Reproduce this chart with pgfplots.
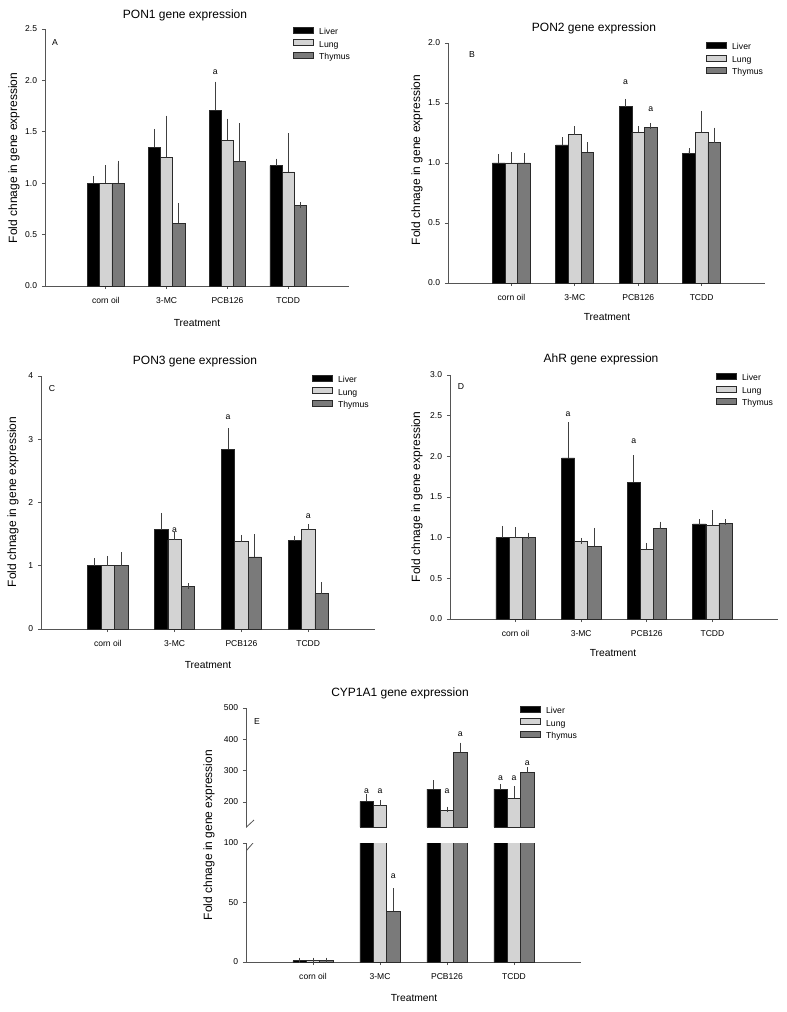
\documentclass[border=0pt]{standalone}
\usepackage{pgfplots}
\pgfplotsset{compat=1.18}
\usepackage{fontspec}
\setmainfont{Liberation Sans}
\definecolor{lungc}{HTML}{D3D3D3}
\definecolor{thyc}{HTML}{7A7A7A}
\definecolor{axc}{HTML}{555555}
\definecolor{edgec}{HTML}{2A2A2A}
\definecolor{errc}{HTML}{404040}
\pgfplotsset{
 panel/.style={
  scale only axis, anchor=south west,
  ybar, bar width=0.2,
  xmin=0, xmax=5, xtick={1,2,3,4},
  xticklabels={corn oil,3-MC,PCB126,TCDD},
  axis x line*=bottom, axis y line*=left,
  axis line style={draw=axc, line width=0.6pt},
  every tick/.style={draw=axc, line width=0.6pt},
  tick align=outside, major tick length=2.4pt,
  ticklabel style={font=\fontsize{6.4}{7}\selectfont},
  xticklabel style={yshift=-2.5pt},
  /pgf/number format/assume math mode=true,
  minor tick num=0,
  legend style={draw=none, fill=none, anchor=north west, inner sep=0pt, outer sep=0pt,
    font=\fontsize{6.5}{7}\selectfont, row sep=1.6pt, column sep=3.5pt,
    nodes={inner sep=0.6pt, text height=4.8pt, text depth=1.2pt}},
  legend cell align=left,
  error bars/y dir=plus, error bars/y explicit,
  error bars/error bar style={draw=errc, line width=0.6pt},
  error bars/error mark options={draw=errc, line width=0.6pt, mark size=2.2pt},
 },
 dec1/.style={yticklabel style={/pgf/number format/.cd, fixed, fixed zerofill, precision=1}},
 legbox/.style={legend image code/.code={\draw[##1] (0pt,-0.6pt) rectangle (15pt,3.9pt);}},
 liver/.style={bar shift=-0.2, fill=black, draw=edgec, line width=0.5pt, legbox},
 lung/.style={bar shift=0, fill=lungc, draw=edgec, line width=0.5pt, legbox},
 thy/.style={bar shift=0.2, fill=thyc, draw=edgec, line width=0.5pt, legbox},
}
\newcommand{\afont}{\fontsize{6.5}{7}\selectfont}
\begin{document}
\begin{tikzpicture}
\useasboundingbox (0pt,0pt) rectangle (590.25pt,-759pt);
% ---------- A: PON1
\begin{axis}[panel, dec1, at={(33.75pt,-214.5pt)}, width=228pt, height=192.75pt,
  ymin=0, ymax=2.5, ytick={0,0.5,1,1.5,2,2.5},
  legend style={at={(0.816,1.008)}}]
\addplot[liver] coordinates {(1,1.00) +- (0,0.04) (2,1.35) +- (0,0.15) (3,1.71) +- (0,0.25) (4,1.17) +- (0,0.04)};
\addplot[lung] coordinates {(1,1.00) +- (0,0.145) (2,1.25) +- (0,0.38) (3,1.42) +- (0,0.18) (4,1.11) +- (0,0.345)};
\addplot[thy] coordinates {(1,1.00) +- (0,0.19) (2,0.61) +- (0,0.17) (3,1.215) +- (0,0.34) (4,0.78) +- (0,0.01)};
\legend{Liver,Lung,Thymus}
\node[font=\afont] at (axis cs:2.8,2.08) {a};
\end{axis}
% ---------- B: PON2
\begin{axis}[panel, dec1, at={(336pt,-212.25pt)}, width=237.75pt, height=180pt,
  ymin=0, ymax=2, ytick={0,0.5,1,1.5,2},
  legend style={at={(0.814,1.004)}}]
\addplot[liver] coordinates {(1,1.00) +- (0,0.05) (2,1.15) +- (0,0.04) (3,1.47) +- (0,0.04) (4,1.08) +- (0,0.02)};
\addplot[lung] coordinates {(1,1.00) +- (0,0.065) (2,1.235) +- (0,0.045) (3,1.255) +- (0,0.025) (4,1.255) +- (0,0.155)};
\addplot[thy] coordinates {(1,1.00) +- (0,0.06) (2,1.09) +- (0,0.06) (3,1.295) +- (0,0.015) (4,1.17) +- (0,0.10)};
\legend{Liver,Lung,Thymus}
\node[font=\afont] at (axis cs:2.8,1.675) {a};
\node[font=\afont] at (axis cs:3.2,1.45) {a};
\end{axis}
% ---------- C: PON3
\begin{axis}[panel, at={(30.75pt,-471.75pt)}, width=250.5pt, height=189.75pt,
  ymin=0, ymax=4, ytick={0,1,2,3,4},
  legend style={at={(0.811,1.004)}}]
\addplot[liver] coordinates {(1,1.00) +- (0,0.07) (2,1.57) +- (0,0.22) (3,2.84) +- (0,0.29) (4,1.40) +- (0,0.03)};
\addplot[lung] coordinates {(1,1.00) +- (0,0.11) (2,1.41) +- (0,0.07) (3,1.38) +- (0,0.06) (4,1.58) +- (0,0.03)};
\addplot[thy] coordinates {(1,1.00) +- (0,0.17) (2,0.67) +- (0,0.01) (3,1.14) +- (0,0.31) (4,0.56) +- (0,0.13)};
\legend{Liver,Lung,Thymus}
\node[font=\afont] at (axis cs:2,1.565) {a};
\node[font=\afont] at (axis cs:2.8,3.35) {a};
\node[font=\afont] at (axis cs:4,1.79) {a};
\end{axis}
% ---------- D: AhR
\begin{axis}[panel, dec1, at={(337.5pt,-464.25pt)}, width=246pt, height=183pt,
  ymin=0, ymax=3, ytick={0,0.5,1,1.5,2,2.5,3},
  legend style={at={(0.811,1.008)}}]
\addplot[liver] coordinates {(1,1.00) +- (0,0.11) (2,1.98) +- (0,0.40) (3,1.68) +- (0,0.30) (4,1.17) +- (0,0.02)};
\addplot[lung] coordinates {(1,1.00) +- (0,0.09) (2,0.955) +- (0,0.005) (3,0.855) +- (0,0.045) (4,1.15) +- (0,0.15)};
\addplot[thy] coordinates {(1,1.005) +- (0,0.02) (2,0.895) +- (0,0.19) (3,1.11) +- (0,0.05) (4,1.18) +- (0,0.01)};
\legend{Liver,Lung,Thymus}
\node[font=\afont] at (axis cs:1.8,2.52) {a};
\node[font=\afont] at (axis cs:2.8,2.18) {a};
\end{axis}
% ---------- E: CYP1A1 upper segment
\begin{axis}[panel, at={(184.5pt,-620.25pt)}, width=251.25pt, height=89.25pt,
  ymin=120, ymax=500, ytick={200,300,400,500}, axis x line=none,
  restrict y to domain=120:600,
  legend style={at={(0.818,1.017)}}]
\addplot[liver] coordinates {(1,1.0) +- (0,0.3) (2,202) +- (0,13) (3,241) +- (0,19) (4,241) +- (0,6)};
\addplot[lung] coordinates {(1,1.0) +- (0,0.3) (2,190) +- (0,7) (3,173) +- (0,3) (4,212) +- (0,29)};
\addplot[thy] coordinates {(1,1.0) +- (0,0.3) (2,42.5) +- (0,17) (3,359) +- (0,21) (4,295) +- (0,8)};
\legend{Liver,Lung,Thymus}
\node[font=\afont] at (axis cs:1.8,235) {a};
\node[font=\afont] at (axis cs:2,235) {a};
\node[font=\afont] at (axis cs:3,235) {a};
\node[font=\afont] at (axis cs:3.2,417) {a};
\node[font=\afont] at (axis cs:3.8,276) {a};
\node[font=\afont] at (axis cs:4,276) {a};
\node[font=\afont] at (axis cs:4.2,324) {a};
\draw[axc, line width=0.6pt] (rel axis cs:0,0) ++(-4.5pt,-4.5pt) -- ++(10.5pt,9.75pt);
\end{axis}
% ---------- E: lower segment
\begin{axis}[panel, at={(184.5pt,-721.5pt)}, width=251.25pt, height=89.25pt,
  ymin=0, ymax=100, ytick={0,50,100}]
\addplot[liver] coordinates {(1,1.0) +- (0,0.3) (2,202) +- (0,13) (3,241) +- (0,19) (4,241) +- (0,6)};
\addplot[lung] coordinates {(1,1.0) +- (0,0.3) (2,190) +- (0,7) (3,173) +- (0,3) (4,212) +- (0,29)};
\addplot[thy] coordinates {(1,1.0) +- (0,0.3) (2,42.5) +- (0,17) (3,359) +- (0,21) (4,295) +- (0,8)};
\node[font=\afont] at (axis cs:2.2,72) {a};
\draw[axc, line width=0.6pt] (rel axis cs:0,1) ++(-4.5pt,-11.25pt) -- ++(9.75pt,11.25pt);
\end{axis}
% ---------- texts
\begin{scope}[x=0.75pt,y=-0.75pt, every node/.style={inner sep=0pt}]
\node[font=\fontsize{9}{10}\selectfont] at (185,15) {PON1 gene expression};
\node[font=\fontsize{9}{10}\selectfont] at (594,28) {PON2 gene expression};
\node[font=\fontsize{9}{10}\selectfont] at (195,361) {PON3 gene expression};
\node[font=\fontsize{9}{10}\selectfont] at (601,359) {AhR gene expression};
\node[font=\fontsize{9}{10}\selectfont] at (400,693) {CYP1A1 gene expression};
\node[font=\fontsize{9}{10}\selectfont, rotate=90] at (14,158) {Fold chnage in gene expression};
\node[font=\fontsize{9}{10}\selectfont, rotate=90] at (417,160) {Fold chnage in gene expression};
\node[font=\fontsize{9}{10}\selectfont, rotate=90] at (13,502) {Fold chnage in gene expression};
\node[font=\fontsize{9}{10}\selectfont, rotate=90] at (417,497) {Fold chnage in gene expression};
\node[font=\fontsize{9}{10}\selectfont, rotate=90] at (209,835) {Fold chnage in gene expression};
\node[font=\fontsize{7.7}{9}\selectfont] at (197,323) {Treatment};
\node[font=\fontsize{7.7}{9}\selectfont] at (607,317) {Treatment};
\node[font=\fontsize{7.7}{9}\selectfont] at (208,665) {Treatment};
\node[font=\fontsize{7.7}{9}\selectfont] at (613,653) {Treatment};
\node[font=\fontsize{7.7}{9}\selectfont] at (414,998) {Treatment};
\node[font=\afont] at (55,43) {A};
\node[font=\afont] at (472,55) {B};
\node[font=\afont] at (52,389) {C};
\node[font=\afont] at (461,387) {D};
\node[font=\afont] at (257,722) {E};
\end{scope}
\end{tikzpicture}
\end{document}
